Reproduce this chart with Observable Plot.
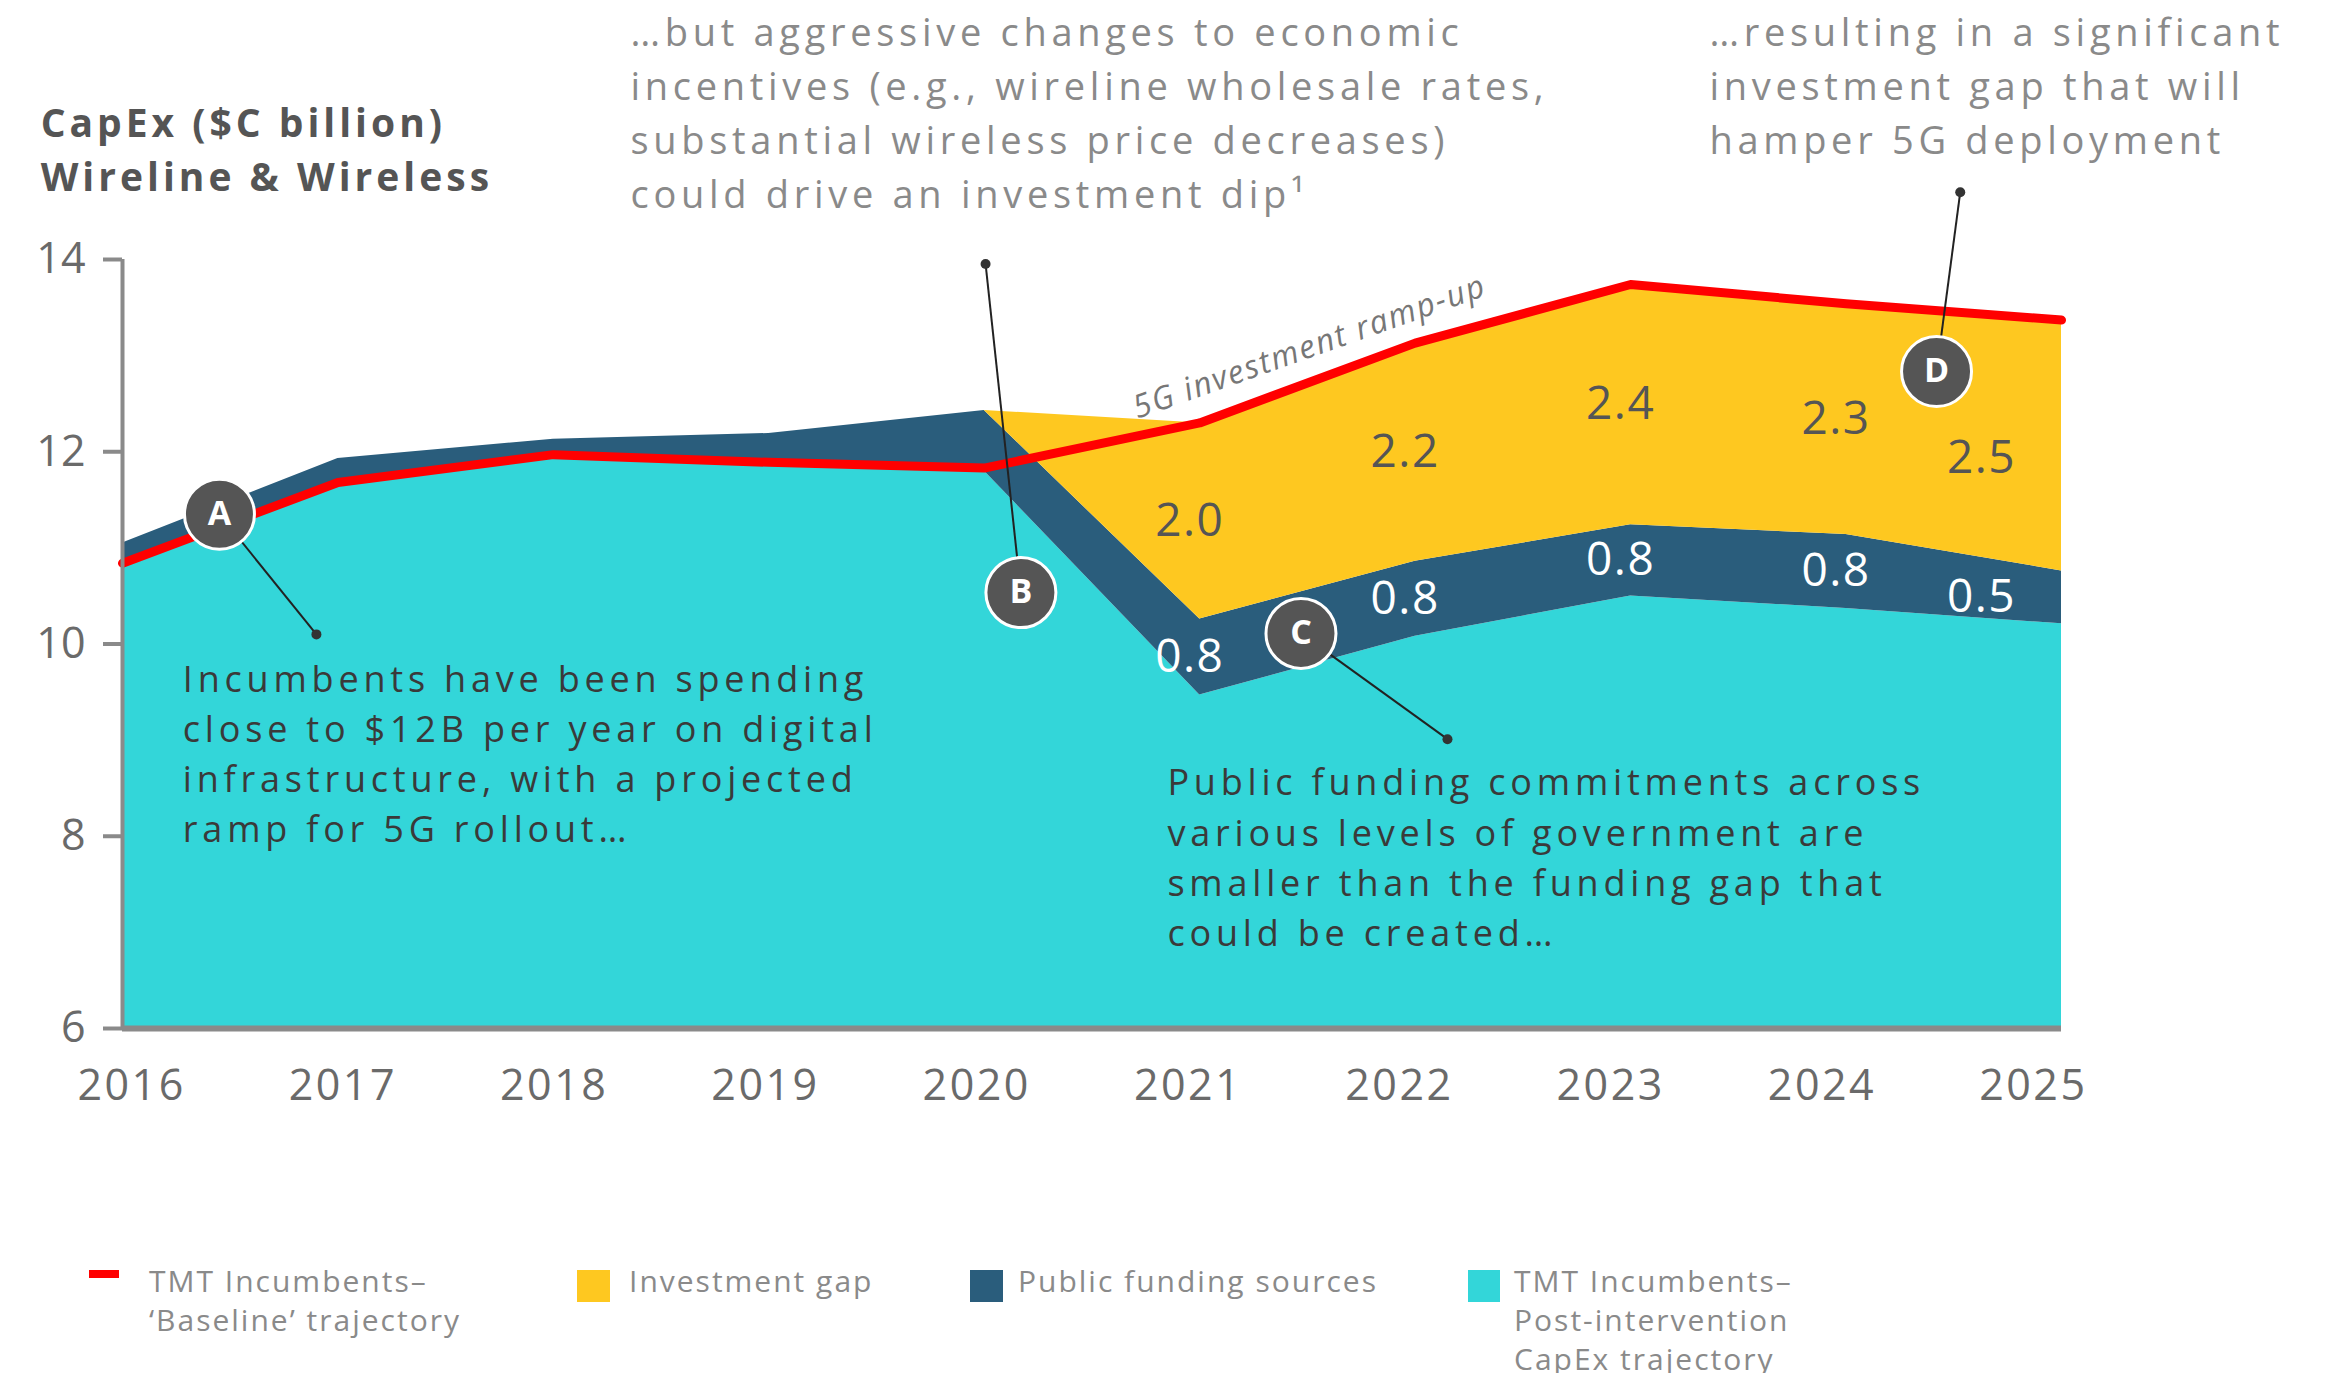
<!DOCTYPE html>
<html><head><meta charset="utf-8">
<script src="https://cdn.jsdelivr.net/npm/d3@7"></script>
<script src="https://cdn.jsdelivr.net/npm/@observablehq/plot@0.6"></script>
<style>
body{margin:0;background:#fff;font-family:"Open Sans",sans-serif;}
#wrap{position:relative;width:2337px;height:1373px;overflow:hidden;background:#fff;}
#chart{position:absolute;left:0;top:0;}
.lg{position:absolute;font-family:"Open Sans",sans-serif;font-size:30px;line-height:39px;color:#8a8a8a;letter-spacing:2px;}
.sw{position:absolute;}
#chart [aria-label="body-note"]{letter-spacing:4.8px;}
#chart [aria-label="top-note"]{letter-spacing:4.7px;}
#chart [aria-label="title"]{letter-spacing:4px;}
#chart [aria-label="ramp"]{letter-spacing:1.8px;}
#chart [aria-label="band-label"]{letter-spacing:1.5px;}
#chart [aria-label="x-label"]{letter-spacing:2.5px;}
</style></head><body><div id="wrap"><div id="chart"></div><div id="legend"></div></div>
<script>
// ---- data ----
const years = [2016, 2017, 2018, 2019, 2020, 2021, 2022, 2023, 2024, 2025];
const postIntervention = [10.84, 11.66, 11.93, 11.87, 11.80, 9.47, 10.08, 10.50, 10.37, 10.21];
const publicFunding   = [0.21, 0.27, 0.20, 0.32, 0.63, 0.79, 0.78, 0.74, 0.77, 0.55];
const investmentGap   = [0, 0, 0, 0, 0, 2.04, 2.27, 2.50, 2.40, 2.61];
const baseline        = [10.84, 11.68, 11.97, 11.89, 11.83, 12.30, 13.13, 13.74, 13.54, 13.37];
const gapLabels    = [null, null, null, null, null, "2.0", "2.2", "2.4", "2.3", "2.5"];
const publicLabels = [null, null, null, null, null, "0.8", "0.8", "0.8", "0.8", "0.5"];
const yTicks = [6, 8, 10, 12, 14];
const xTickLabels = ["2016","2017","2018","2019","2020","2021","2022","2023","2024","2025"];
const seriesNames = ["TMT Incumbents– Post-intervention CapEx trajectory", "Public funding sources", "Investment gap"];
const seriesColors = ["#33d6d9", "#2a5d7c", "#fec820"];
const baselineName = "TMT Incumbents– ‘Baseline’ trajectory";
const baselineColor = "#ff0000";

// annotations (data coordinates)
const calloutLetters = ["A", "B", "C", "D"];
const calloutX = [2016.45, 2020.17, 2021.47, 2024.42];
const calloutY = [11.35, 10.535, 10.11, 12.835];
const leaderX  = [2016.90, 2020.006, 2022.15, 2024.53];
const leaderY  = [10.10, 13.954, 9.01, 14.70];

// ---- tables ----
const seriesValues = [postIntervention, publicFunding, investmentGap];
const table = [];
seriesNames.forEach((s, k) => years.forEach((yr, i) => table.push({year: yr, series: s, value: seriesValues[k][i]})));
const rows = years.map((yr, i) => ({
  year: yr, post: postIntervention[i], pub: publicFunding[i], gap: investmentGap[i], base: baseline[i],
  gapLabel: gapLabels[i], pubLabel: publicLabels[i]
}));
const labelRows = rows.filter(d => d.gapLabel);
const callouts = calloutLetters.map((l, i) => ({l, x: calloutX[i], y: calloutY[i], lx: leaderX[i], ly: leaderY[i]}));
const xLabelRows = years.map((yr, i) => ({year: yr, label: xTickLabels[i]}));

const F = "Open Sans";
const tag = name => () => name;
const textMarks = (data, dx, dyGap) => [
  Plot.text(data, {x: "year", y: d => d.post + d.pub + d.gap / 2, text: "gapLabel", dx, dy: dyGap, fontSize: 46, fill: "#555", fontFamily: F, ariaLabel: tag("band-label")}),
  Plot.text(data, {x: "year", y: d => d.post + d.pub / 2, text: "pubLabel", dx, fontSize: 46, fill: "#fff", fontFamily: F, ariaLabel: tag("band-label")})
];

const chart = Plot.plot({
  width: 2337, height: 1200,
  marginLeft: 122, marginRight: 276, marginTop: 259, marginBottom: 172,
  x: {domain: [2016, 2025], axis: null},
  y: {domain: [6, 14], axis: null},
  color: {domain: seriesNames, range: seriesColors},
  style: {fontFamily: F, background: "transparent", overflow: "visible"},
  marks: [
    Plot.areaY(table, {x: "year", y: "value", z: "series", fill: "series", order: seriesNames, clip: true}),
    Plot.lineY(rows, {x: "year", y: "base", stroke: baselineColor, strokeWidth: 9, strokeLinecap: "round", strokeLinejoin: "round"}),
    Plot.ruleX([2016], {y1: 6, y2: 14, stroke: "#8a8a8a", strokeWidth: 4}),
    Plot.ruleY([6], {x1: 2016, x2: 2025, stroke: "#8a8a8a", strokeWidth: 6}),
    Plot.axisY({ticks: yTicks, tickSize: 19, tickPadding: 18, fontSize: 43, fill: "#6a6a6a", stroke: "#8a8a8a", strokeWidth: 4, label: null, tickFormat: d => String(d)}),
    // year labels: the source spaces them slightly tighter than the data columns
    Plot.text(xLabelRows, {x: d => d.year - (d.year - 2016) * 0.0192 + 0.042, y: 6, text: "label", dy: 58, fontSize: 43, fill: "#6a6a6a", fontFamily: F, ariaLabel: tag("x-label")}),
    ...textMarks(labelRows.filter(d => d.year < 2025), -10, 0),
    ...textMarks(labelRows.filter(d => d.year === 2025), -80, 13),
    Plot.text(["5G investment ramp-up"], {x: 2021.51, y: 13.09, text: d => d, rotate: -19.5, fontSize: 32, fill: "#777", fontStyle: "italic", fontFamily: F, ariaLabel: tag("ramp")}),
    // leader lines
    Plot.link(callouts, {x1: "lx", y1: "ly", x2: "x", y2: "y", stroke: "#222", strokeWidth: 2}),
    Plot.dot(callouts, {x: "lx", y: "ly", r: 5, fill: "#333"}),
    Plot.dot(callouts, {x: "x", y: "y", r: 35, fill: "#555", stroke: "#fff", strokeWidth: 3}),
    Plot.text(callouts, {x: "x", y: "y", text: "l", fill: "#fff", fontSize: 34, fontWeight: "bold", fontFamily: F}),
    // titles and notes
    Plot.text(["CapEx ($C billion)\nWireline & Wireless"], {x: 2015.62, y: 15.17, text: d => d, textAnchor: "start", lineHeight: 1.37, fontSize: 39, fontWeight: "bold", fill: "#555", fontFamily: F, ariaLabel: tag("title")}),
    Plot.text(["…but aggressive changes to economic\nincentives (e.g., wireline wholesale rates,\nsubstantial wireless price decreases)\ncould drive an investment dip¹"], {x: 2018.358, y: 15.56, text: d => d, textAnchor: "start", lineHeight: 1.42, fontSize: 38, fill: "#8a8a8a", fontFamily: F, ariaLabel: tag("top-note")}),
    Plot.text(["…resulting in a significant\ninvestment gap that will\nhamper 5G deployment"], {x: 2023.366, y: 15.84, text: d => d, textAnchor: "start", lineHeight: 1.42, fontSize: 38, fill: "#8a8a8a", fontFamily: F, ariaLabel: tag("top-note")}),
    Plot.text(["Incumbents have been spending\nclose to $12B per year on digital\ninfrastructure, with a projected\nramp for 5G rollout…"], {x: 2016.28, y: 8.885, text: d => d, textAnchor: "start", lineHeight: 1.39, fontSize: 36, fill: "#3a3a3a", fontFamily: F, ariaLabel: tag("body-note")}),
    Plot.text(["Public funding commitments across\nvarious levels of government are\nsmaller than the funding gap that\ncould be created…"], {x: 2020.85, y: 7.81, text: d => d, textAnchor: "start", lineHeight: 1.39, fontSize: 36, fill: "#3a3a3a", fontFamily: F, ariaLabel: tag("body-note")})
  ]
});
document.getElementById("chart").appendChild(chart);

// legend
const legendItems = [
  {name: baselineName, color: baselineColor, sx: 89, sw: 30, sh: 8, tx: 149, lines: ["TMT Incumbents–", "‘Baseline’ trajectory"]},
  {name: seriesNames[2], color: seriesColors[2], sx: 577, sw: 33, sh: 32, tx: 629, lines: ["Investment gap"]},
  {name: seriesNames[1], color: seriesColors[1], sx: 970, sw: 33, sh: 32, tx: 1018, lines: ["Public funding sources"]},
  {name: seriesNames[0], color: seriesColors[0], sx: 1468, sw: 32, sh: 32, tx: 1514, lines: ["TMT Incumbents–", "Post-intervention", "CapEx trajectory"]}
];
const lg = document.getElementById("legend");
legendItems.forEach(it => {
  const s = document.createElement("div");
  s.className = "sw";
  s.style.cssText = `left:${it.sx}px;top:1270px;width:${it.sw}px;height:${it.sh}px;background:${it.color};`;
  lg.appendChild(s);
  const t = document.createElement("div");
  t.className = "lg";
  t.style.left = it.tx + "px"; t.style.top = "1261px";
  t.innerHTML = it.lines.join("<br>");
  lg.appendChild(t);
});
</script></body></html>
